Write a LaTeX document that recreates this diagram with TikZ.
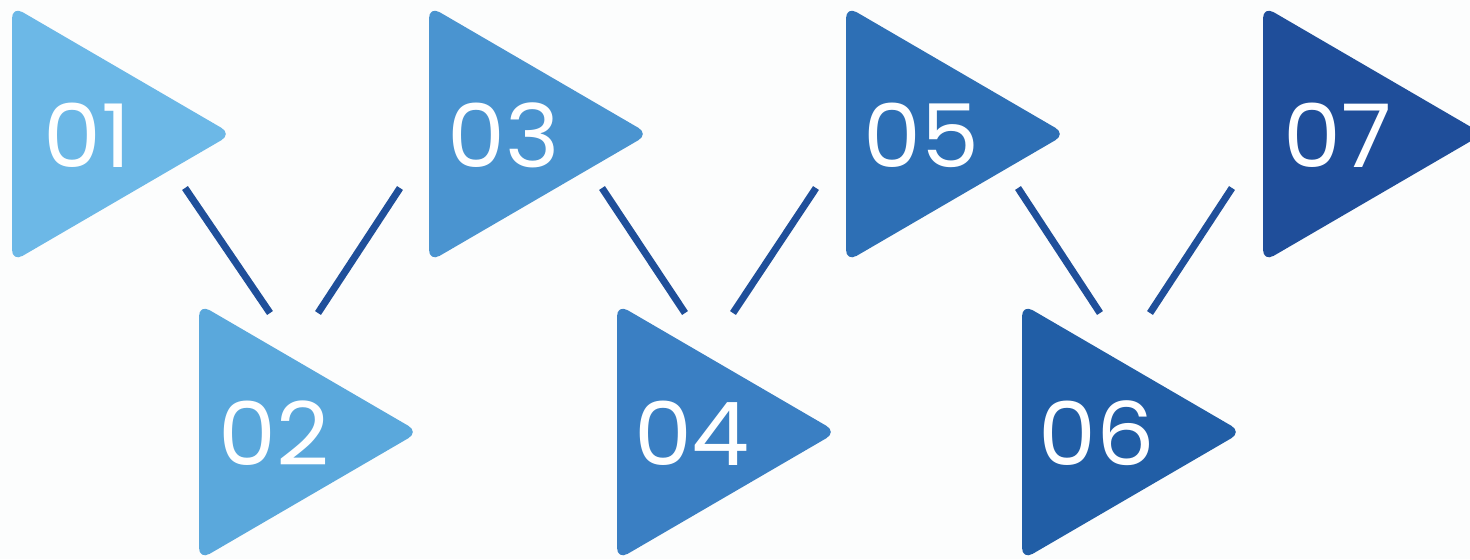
\documentclass[tikz,border=0pt]{standalone}
\usepackage{fontspec}
\setmainfont{Poppins}
\newfontfamily\numfont{Poppins}[FakeStretch=1.05]
\usepackage{xcolor}
\usepackage{tikz}
\usetikzlibrary{calc}
\definecolor{paper}{HTML}{FCFDFD}
\definecolor{tone1}{HTML}{6CB8E7}
\definecolor{tone2}{HTML}{5AA8DC}
\definecolor{tone3}{HTML}{4A94D0}
\definecolor{tone4}{HTML}{3A7FC3}
\definecolor{tone5}{HTML}{2D6FB5}
\definecolor{tone6}{HTML}{215EA6}
\definecolor{tone7}{HTML}{1F4E9A}
\definecolor{linkblue}{HTML}{1F4F9A}
\tikzset{
 num/.style={text=white, inner sep=0, font=\numfont\fontsize{50}{50}\selectfont},
 link/.style={linkblue, line width=4pt}
}

\begin{document}
\begin{tikzpicture}[x=0.02cm, y=-0.02cm]
\fill[paper] (0,0) rectangle (1470,559);
\useasboundingbox (0,0) rectangle (1470,559);
\foreach \n/\l/\t in {1/12/6, 2/199/304, 3/429/6, 4/617/304, 5/846/6, 6/1022/304, 7/1263/6} {
 \fill[tone\n, rounded corners=7pt] (\l,\t) -- (\l+220,\t+128) -- (\l,\t+256) -- cycle;
 \node[num] (n\n) at (\l+75,\t+129) {0\n};
}
\foreach \i/\xa/\xb in {12/185/270, 32/400/318, 34/602/685, 54/816/733, 56/1018/1100, 76/1232/1150} {
 \coordinate (s\i) at (\xa,188);
 \coordinate (e\i) at (\xb,313);
 \draw[link] (s\i) -- (e\i);
}
\end{tikzpicture}
\end{document}
